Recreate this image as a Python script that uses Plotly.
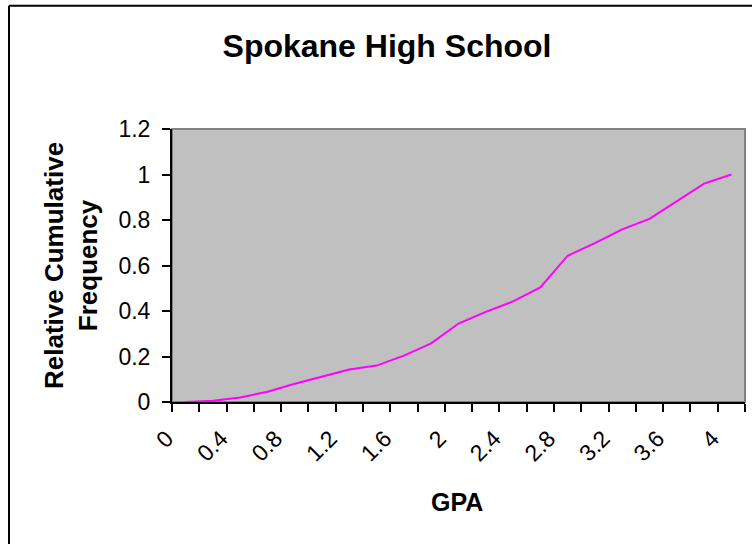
import plotly.graph_objects as go

# Category labels (GPA) and series values
gpa = ["0", "0.2", "0.4", "0.6", "0.8", "1", "1.2", "1.4", "1.6", "1.8", "2",
       "2.2", "2.4", "2.6", "2.8", "3", "3.2", "3.4", "3.6", "3.8", "4"]
rel_cum_freq = [0.0, 0.005, 0.02, 0.045, 0.08, 0.11, 0.143, 0.16, 0.204, 0.258, 0.345,
                0.396, 0.442, 0.504, 0.643, 0.698, 0.759, 0.805, 0.883, 0.96, 1.0]
x_tick_labels = ["0", "", "0.4", "", "0.8", "", "1.2", "", "1.6", "", "2",
                 "", "2.4", "", "2.8", "", "3.2", "", "3.6", "", "4"]

FONT = "Liberation Sans, Arial, sans-serif"

# plot-area geometry in pixels (for the decorative outer frame only)
PL, PR, PT, PB = 172, 745, 129, 401.7
def px_x(v):
    return (v - PL) / (PR - PL)
def px_y(v):
    return (PB - v) / (PB - PT)

fig = go.Figure()
fig.add_trace(go.Scatter(
    x=gpa, y=rel_cum_freq, mode="lines",
    line=dict(color="#FF00FF", width=2),
    showlegend=False, hoverinfo="skip",
))

fig.update_layout(
    width=752, height=544,
    margin=dict(l=PL, r=752 - PR, t=PT, b=544 - PB, autoexpand=False),
    paper_bgcolor="white",
    plot_bgcolor="#C0C0C0",
    font=dict(family=FONT, color="black"),
    title=dict(
        text="<b>Spokane High School</b>",
        font=dict(family=FONT, size=32, color="black"),
        x=387 / 752, xref="container", xanchor="center",
        y=1 - 46 / 544, yref="container", yanchor="middle",
    ),
    xaxis=dict(
        type="category",
        tickmode="array", tickvals=gpa, ticktext=x_tick_labels,
        tickson="boundaries",
        ticks="outside", ticklen=8, tickwidth=2, tickcolor="black",
        tickangle=-45,
        ticklabelshift=-19,
        ticklabelstandoff=12,
        tickfont=dict(family=FONT, size=23, color="black"),
        showline=True, linecolor="black", linewidth=2,
        showgrid=False, zeroline=False,
        range=[-0.5, len(gpa) - 0.5],
        automargin=False,
    ),
    yaxis=dict(
        range=[0, 1.2], dtick=0.2, tick0=0,
        ticks="outside", ticklen=8, tickwidth=2, tickcolor="black",
        tickfont=dict(family=FONT, size=23, color="black"),
        ticklabelstandoff=7,
        showline=True, linecolor="black", linewidth=2,
        showgrid=False, zeroline=False,
        automargin=False,
    ),
    shapes=[
        # plot-area frame (gray top/right)
        dict(type="rect", xref="paper", yref="paper", x0=0, x1=1, y0=0, y1=1,
             line=dict(color="#808080", width=2), layer="below"),
        # outer chart border (left and top edges visible)
        dict(type="line", xref="paper", yref="paper",
             x0=px_x(9), x1=px_x(9), y0=px_y(560), y1=px_y(6),
             line=dict(color="black", width=2)),
        dict(type="line", xref="paper", yref="paper",
             x0=px_x(9), x1=px_x(770), y0=px_y(6), y1=px_y(6),
             line=dict(color="black", width=2)),
    ],
    annotations=[
        dict(text="<b>Relative Cumulative<br>Frequency</b>", textangle=-90,
             xref="paper", yref="paper", x=px_x(70.5), y=0.5,
             xanchor="center", yanchor="middle", showarrow=False,
             font=dict(family=FONT, size=26, color="black")),
        dict(text="<b>GPA</b>",
             xref="paper", yref="paper", x=px_x(457), y=px_y(502),
             xanchor="center", yanchor="middle", showarrow=False,
             font=dict(family=FONT, size=25, color="black")),
    ],
)

fig.write_html("out.html", config={"displayModeBar": False},
               post_script="document.body.style.margin='0px';")
